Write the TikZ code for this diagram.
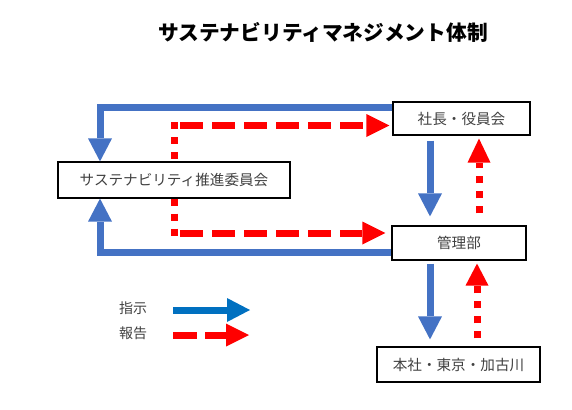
\documentclass[tikz,border=0pt]{standalone}
\usepackage{fontspec}
\setmainfont{Noto Sans CJK JP}
\usetikzlibrary{arrows.meta,positioning,calc}
\definecolor{cmdblue}{RGB}{68,114,196}
\definecolor{legblue}{RGB}{0,112,192}
\definecolor{txtgray}{RGB}{64,64,64}

\begin{document}
\begin{tikzpicture}[
    x=1pt, y=-1pt,
    box/.style={rectangle, draw, line width=1.2pt, text=txtgray, inner sep=0pt, font=\fontsize{14.6}{16}\selectfont},
    legend/.style={text=txtgray, font=\fontsize{14}{16}\selectfont},
    order/.style={cmdblue, line width=7pt, -{Triangle[width=24pt, length=23pt, line width=0pt]}},
    report/.style={red, line width=7pt, dash pattern=on 23pt off 9pt, -{Triangle[width=23pt, length=23pt, line width=0pt]}},
    report_dot/.style={red, line width=7pt, dash pattern=on 7pt off 8pt}
]
\useasboundingbox (0,0) rectangle (572,409);

% 組織
\node[font=\bfseries\fontsize{20.7}{24}\selectfont] (title) at (323,32) {サステナビリティマネジメント体制};
\node[box, minimum width=232pt, minimum height=36pt] (suishin) at (174,180) {サステナビリティ推進委員会};
\node[box, minimum width=137pt, minimum height=33pt] (shacho) at (461.5,118.5) {社長・役員会};
\node[box, minimum width=134pt, minimum height=34pt] (kanri) at (459,243) {管理部};
\node[box, minimum width=163pt, minimum height=35pt] (honsha) at (458.5,364.5) {本社・東京・加古川};

% 指示
\draw[order] ([yshift=11pt]shacho.west) -| ([xshift=-74pt]suishin.north);
\draw[order] ([yshift=-9.5pt]kanri.west) -| ([xshift=-74pt]suishin.south);
\draw[order, shorten <=5pt, shorten >=9pt] ([xshift=-31.5pt]shacho.south) -- ([xshift=-31.5pt]shacho.south |- kanri.north);
\draw[order, shorten <=3pt, shorten >=7pt] ([xshift=-29pt]kanri.south) -- ([xshift=-29pt]kanri.south |- honsha.north);

% 報告
\coordinate (c_top) at (174,125.5);
\coordinate (c_bot) at (174,233);
\draw[report_dot] ([yshift=3.5pt]c_top) -- (suishin.north);
\draw[report, shorten >=3pt] ([xshift=6pt]c_top) -- (shacho.west |- c_top);
\draw[report_dot] (suishin.south) -- ([yshift=-3.5pt]c_bot);
\draw[report, shorten >=6pt] ([xshift=6pt]c_bot) -- (kanri.west |- c_bot);
\draw[report_dot, -{Triangle[width=23pt, length=24pt, line width=0pt]}, shorten <=12pt, shorten >=3pt]
    ([xshift=20pt]kanri.north) -- ([xshift=20pt]kanri.north |- shacho.south);
\draw[report_dot, -{Triangle[width=23pt, length=22pt, line width=0pt]}, shorten <=8pt, shorten >=3pt]
    ([xshift=18.5pt]honsha.north) -- ([xshift=18.5pt]honsha.north |- kanri.south);

% 凡例
\node[legend] (leg_order) at (133,308) {指示};
\node[legend] (leg_report) at (133,333) {報告};
\coordinate (lo_start) at (173,310);
\coordinate (lo_end) at (250,310);
\coordinate (lr_start) at (173,335);
\coordinate (lr_end) at (249,335);
\draw[order, legblue] (lo_start) -- (lo_end);
\draw[report, dash pattern=on 24pt off 8pt] (lr_start) -- (lr_end);

\end{tikzpicture}
\end{document}
